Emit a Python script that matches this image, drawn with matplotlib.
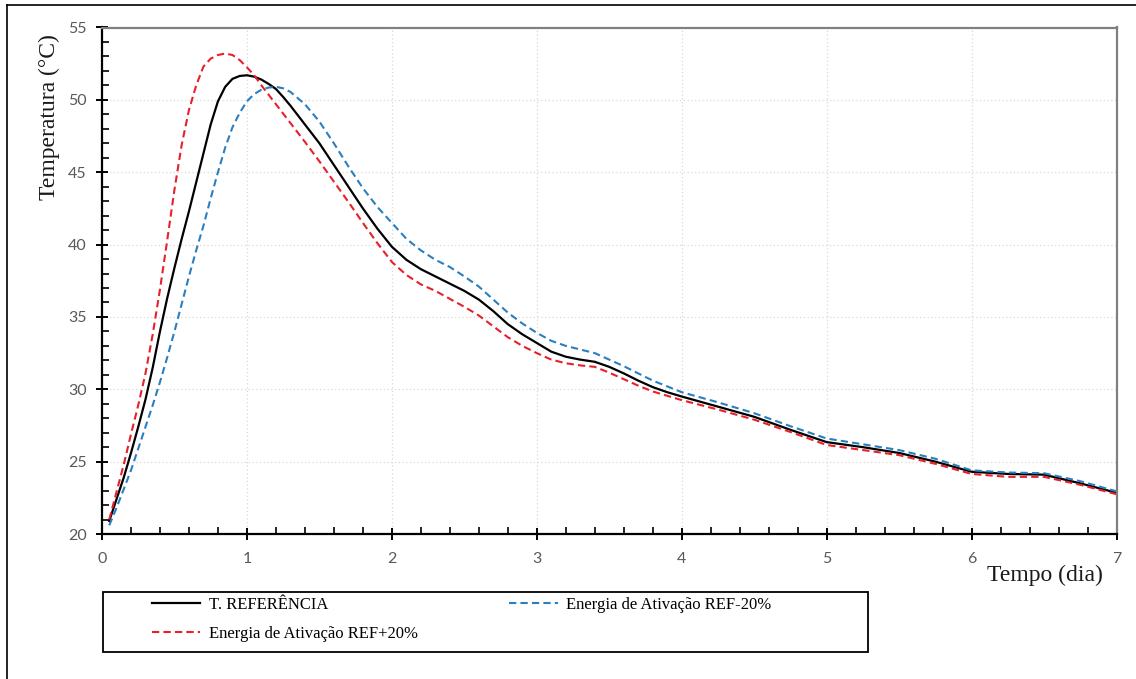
import matplotlib
matplotlib.use("Agg")
import matplotlib.pyplot as plt
from matplotlib.lines import Line2D
from matplotlib.patches import Rectangle
from matplotlib.ticker import MultipleLocator

# tempo (dia)
tempo = [0.05, 0.1, 0.15, 0.2, 0.25, 0.3, 0.35, 0.4, 0.45, 0.5, 0.55, 0.6, 0.65, 0.7,
         0.75, 0.8, 0.85, 0.9, 0.95, 1.0, 1.05, 1.1, 1.15, 1.2, 1.25, 1.3, 1.4, 1.5,
         1.6, 1.7, 1.8, 1.9, 2.0, 2.1, 2.2, 2.3, 2.4, 2.5, 2.6, 2.7, 2.8, 2.9, 3.0,
         3.1, 3.2, 3.3, 3.4, 3.5, 3.6, 3.7, 3.8, 3.9, 4.0, 4.25, 4.5, 4.75, 5.0, 5.25,
         5.5, 5.75, 6.0, 6.25, 6.5, 6.75, 7.0]

# temperaturas (C)
t_ref = [20.9, 22.4, 23.9, 25.6, 27.4, 29.3, 31.5, 34.0, 36.3, 38.4, 40.4, 42.3, 44.3,
         46.3, 48.3, 49.9, 50.9, 51.45, 51.65, 51.7, 51.6, 51.4, 51.1, 50.75, 50.2,
         49.6, 48.3, 47.0, 45.5, 44.0, 42.5, 41.1, 39.85, 38.95, 38.3, 37.8, 37.3,
         36.8, 36.2, 35.4, 34.5, 33.8, 33.2, 32.6, 32.25, 32.05, 31.9, 31.55, 31.1,
         30.6, 30.15, 29.8, 29.5, 28.8, 28.1, 27.2, 26.35, 26.0, 25.6, 25.0, 24.3,
         24.15, 24.1, 23.5, 22.85]
t_mais20 = [21.0, 22.9, 24.8, 26.9, 28.9, 31.1, 33.8, 36.9, 40.3, 43.8, 46.9, 49.3,
            51.0, 52.3, 52.85, 53.1, 53.2, 53.1, 52.75, 52.25, 51.7, 51.0, 50.35, 49.7,
            49.05, 48.4, 47.1, 45.75, 44.35, 42.95, 41.5, 40.1, 38.8, 37.9, 37.25,
            36.8, 36.25, 35.7, 35.1, 34.35, 33.6, 33.0, 32.5, 32.05, 31.8, 31.65,
            31.55, 31.15, 30.7, 30.25, 29.85, 29.55, 29.25, 28.6, 27.9, 27.05, 26.15,
            25.8, 25.45, 24.85, 24.15, 23.95, 23.95, 23.4, 22.75]
t_menos20 = [20.6, 21.8, 23.1, 24.4, 25.9, 27.4, 28.9, 30.5, 32.2, 34.0, 35.9, 37.8,
             39.6, 41.3, 43.2, 45.0, 46.7, 48.1, 49.1, 49.9, 50.4, 50.7, 50.85, 50.9,
             50.8, 50.55, 49.7, 48.5, 47.0, 45.4, 43.9, 42.6, 41.5, 40.4, 39.6, 38.95,
             38.45, 37.8, 37.1, 36.2, 35.3, 34.55, 33.9, 33.35, 33.0, 32.75, 32.5,
             32.05, 31.6, 31.1, 30.6, 30.2, 29.8, 29.1, 28.35, 27.45, 26.6, 26.2, 25.8,
             25.2, 24.4, 24.25, 24.2, 23.65, 22.95]

labels = ["T. REFERÊNCIA", "Energia de Ativação REF+20%", "Energia de Ativação REF-20%"]

red = "#e8202a"
blue = "#2a7fc0"
W, H = 1136, 679

fig = plt.figure(figsize=(W / 100, H / 100), dpi=100)
ax = fig.add_axes([102 / W, 1 - 534 / H, (1116.5 - 102) / W, (534 - 27.5) / H])

dash = (0, (3.5, 2))
l1, = ax.plot(tempo, t_ref, color="black", lw=1.6)
l2, = ax.plot(tempo, t_mais20, color=red, lw=1.5, linestyle=dash)
l3, = ax.plot(tempo, t_menos20, color=blue, lw=1.5, linestyle=dash)

ax.set_xlim(0, 7)
ax.set_ylim(20, 55)
ax.xaxis.set_major_locator(MultipleLocator(1))
ax.xaxis.set_minor_locator(MultipleLocator(0.2))
ax.yaxis.set_major_locator(MultipleLocator(5))
ax.yaxis.set_minor_locator(MultipleLocator(1))
ax.grid(True, which="major", color="#d9d9d9", linestyle=(0, (1, 2)), lw=0.9)
ax.set_axisbelow(True)

for s in ["left", "bottom"]:
    ax.spines[s].set_color("black")
    ax.spines[s].set_linewidth(1.6)
for s in ["top", "right"]:
    ax.spines[s].set_color("#808080")
    ax.spines[s].set_linewidth(1.6)

ax.tick_params(which="major", direction="inout", length=8, width=1.4, color="black",
               labelcolor="#595959", labelsize=11.5)
ax.tick_params(which="minor", direction="in", length=5, width=1.2, color="black")
ax.tick_params(axis="y", which="major", pad=7)
ax.tick_params(axis="x", which="major", pad=9)
for t in ax.get_xticklabels() + ax.get_yticklabels():
    t.set_fontfamily(["Lato", "DejaVu Sans"])

serif = ["Liberation Serif", "DejaVu Serif"]
fig.text(49 / W, 1 - 117 / H, "Temperatura (°C)", rotation=90, ha="center", va="center",
         fontsize=17, family=serif, color="#1a1a1a")
fig.text(1045 / W, 1 - 575 / H, "Tempo (dia)", ha="center", va="center",
         fontsize=17, family=serif, color="#1a1a1a")

# caixa da legenda
fig.add_artist(Rectangle((103 / W, 1 - 652 / H), (868 - 103) / W, 60 / H,
                         transform=fig.transFigure, fill=False, edgecolor="black", lw=1.3))
fig.legend([l1, l2, l3], labels, ncol=2, frameon=False, loc="upper left",
           bbox_to_anchor=(152 / W, 1 - 597 / H), borderpad=0, borderaxespad=0,
           handlelength=2.9, handletextpad=0.5, columnspacing=5.5, labelspacing=0.75,
           prop={"family": serif, "size": 12})

# moldura externa
fig.add_artist(Line2D([7 / W, 1], [1 - 5 / H, 1 - 5 / H], transform=fig.transFigure,
                      color="black", lw=1.2))
fig.add_artist(Line2D([7 / W, 7 / W], [0, 1 - 5 / H], transform=fig.transFigure,
                      color="black", lw=1.2))

fig.savefig("out.png", dpi=100)
